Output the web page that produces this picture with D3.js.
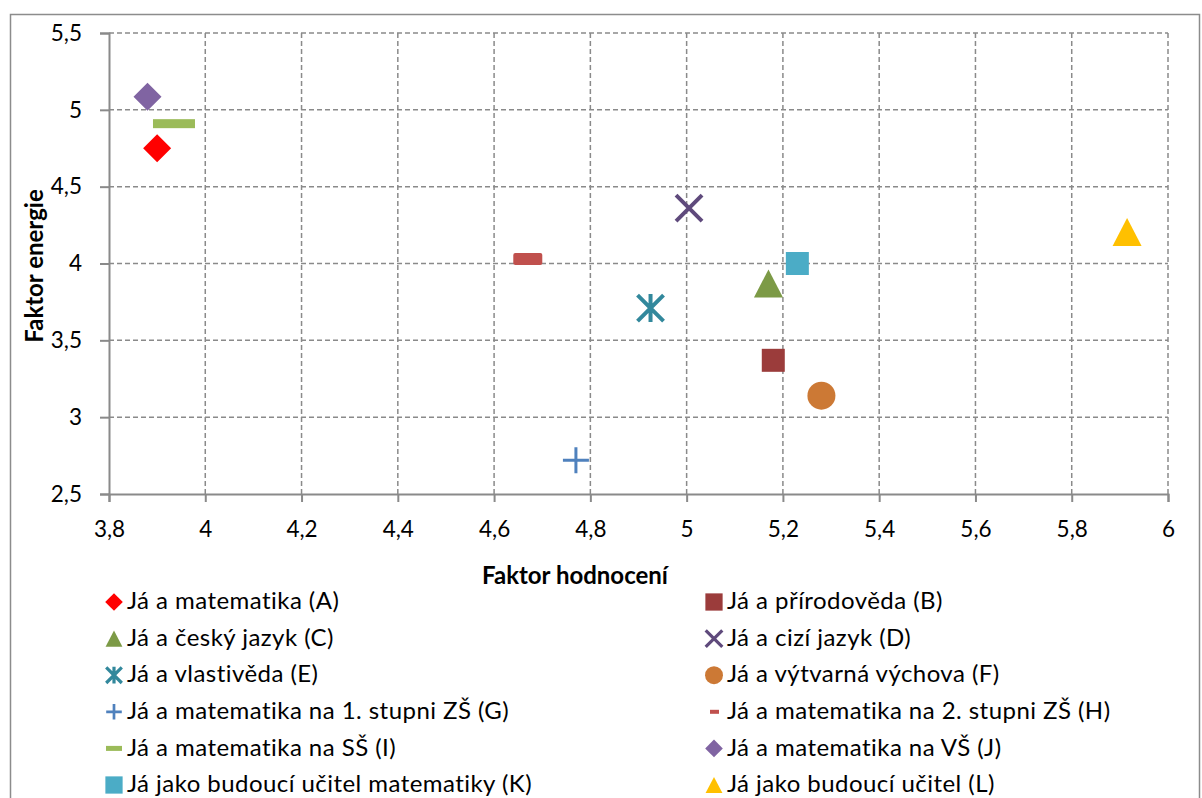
<!DOCTYPE html>
<html>
<head>
<meta charset="utf-8">
<script src="https://cdn.jsdelivr.net/npm/d3@7"></script>
<style>
  html, body { margin: 0; padding: 0; background: #fff; }
  svg { display: block; font-family: Lato, "Open Sans", sans-serif; }
</style>
</head>
<body>
<svg id="chart" width="1202" height="798"></svg>
<script>
// Series labels, symbols, colours and values
const labels = [
  "Já a matematika (A)", "Já a přírodověda (B)", "Já a český jazyk (C)", "Já a cizí jazyk (D)",
  "Já a vlastivěda (E)", "Já a výtvarná výchova (F)", "Já a matematika na 1. stupni ZŠ (G)",
  "Já a matematika na 2. stupni ZŠ (H)", "Já a matematika na SŠ (I)", "Já a matematika na VŠ (J)",
  "Já jako budoucí učitel matematiky (K)", "Já jako budoucí učitel (L)"
];
const hodnoceni = [3.90, 5.18, 5.17, 5.005, 4.925, 5.28, 4.77, 4.67, 3.935, 3.88, 5.23, 5.915];
const energie   = [4.75, 3.37, 3.87, 4.36, 3.71, 3.14, 2.72, 4.03, 4.91, 5.085, 4.00, 4.205];
const shapes = ["diamond", "square", "triangle", "x", "star", "circle", "plus", "dashSmall", "dashLong", "diamond", "square", "triangle"];
const colors = ["#FF0000", "#9B3C3B", "#7C9A46", "#5F4A7C", "#32889C", "#CC7935", "#4F81BD", "#C0504D", "#9BBB59", "#8064A2", "#4BACC6", "#FFC000"];
const xTicks = [3.8, 4, 4.2, 4.4, 4.6, 4.8, 5, 5.2, 5.4, 5.6, 5.8, 6];
const yTicks = [2.5, 3, 3.5, 4, 4.5, 5, 5.5];

const svg = d3.select("#chart");
const fmt = v => String(v).replace(".", ",");

// outer chart frame
svg.append("rect").attr("x", 10.5).attr("y", 14.5).attr("width", 1189).attr("height", 800)
  .attr("fill", "none").attr("stroke", "#8c8c8c").attr("stroke-width", 1.5);

const x = d3.scaleLinear().domain([3.8, 6]).range([109, 1168]);
const y = d3.scaleLinear().domain([2.5, 5.5]).range([494, 33]);

const gridColor = "#8a8a8a";
// dashed grid
const grid = svg.append("g");
grid.selectAll("line.gx").data(xTicks.slice(1)).join("line")
  .attr("x1", d => x(d)).attr("x2", d => x(d)).attr("y1", y(5.5)).attr("y2", y(2.5))
  .attr("stroke", gridColor).attr("stroke-width", 1.5).attr("stroke-dasharray", "5,3");
grid.selectAll("line.gy").data(yTicks.slice(1)).join("line")
  .attr("x1", x(3.8)).attr("x2", x(6)).attr("y1", d => y(d)).attr("y2", d => y(d))
  .attr("stroke", gridColor).attr("stroke-width", 1.5).attr("stroke-dasharray", "5,3");

// axes
const xAxis = svg.append("g").attr("transform", `translate(0,${y(2.5)})`)
  .call(d3.axisBottom(x).tickValues(xTicks).tickFormat(fmt).tickSize(8).tickPadding(19));
const yAxis = svg.append("g").attr("transform", `translate(${x(3.8)},0)`)
  .call(d3.axisLeft(y).tickValues(yTicks).tickFormat(fmt).tickSize(9).tickPadding(18));
[xAxis, yAxis].forEach(g => {
  g.select(".domain").attr("stroke", gridColor).attr("stroke-width", 2);
  g.selectAll(".tick line").attr("stroke", gridColor).attr("stroke-width", 2);
  g.selectAll(".tick text").attr("fill", "#000").style("font-size", "22.5px").style("font-family", "Lato, sans-serif");
});
xAxis.selectAll(".tick text").attr("dy", "0.71em");

// axis titles
svg.append("text").attr("x", 575).attr("y", 584).attr("text-anchor", "middle")
  .style("font-size", "24px").style("font-weight", "bold").text("Faktor hodnocení");
svg.append("text").attr("transform", "translate(43,266) rotate(-90)").attr("text-anchor", "middle")
  .style("font-size", "24px").style("font-weight", "bold").text("Faktor energie");

// marker drawing
function drawMarker(g, shape, color, s) {
  switch (shape) {
    case "diamond":
      g.append("path").attr("d", `M0,${-14*s}L${14*s},0L0,${14*s}L${-14*s},0Z`).attr("fill", color); break;
    case "square":
      g.append("rect").attr("x", -11.5*s).attr("y", -11.5*s).attr("width", 23*s).attr("height", 23*s).attr("fill", color); break;
    case "triangle":
      g.append("path").attr("d", `M0,${-14*s}L${14.5*s},${14*s}L${-14.5*s},${14*s}Z`).attr("fill", color); break;
    case "circle":
      g.append("circle").attr("r", 14*s).attr("fill", color); break;
    case "x":
      g.append("path").attr("d", `M${-13*s},${-13*s}L${13*s},${13*s}M${13*s},${-13*s}L${-13*s},${13*s}`)
        .attr("stroke", color).attr("stroke-width", 4 * Math.max(s, 0.8)); break;
    case "star":
      g.append("path").attr("d", `M${-13*s},${-13*s}L${13*s},${13*s}M${13*s},${-13*s}L${-13*s},${13*s}M0,${-14*s}L0,${14*s}`)
        .attr("stroke", color).attr("stroke-width", 4 * Math.max(s, 0.8)); break;
    case "plus":
      g.append("path").attr("d", `M${-13*s},0L${13*s},0M0,${-13*s}L0,${13*s}`)
        .attr("stroke", color).attr("stroke-width", 3 * Math.max(s, 0.9)); break;
    case "dashSmall":
      g.append("rect").attr("x", -14.5*s).attr("y", -6*s).attr("width", 29*s).attr("height", 12*s).attr("rx", 2*s).attr("fill", color); break;
    case "dashLong":
      g.append("rect").attr("x", -21*s).attr("y", -4.5*s).attr("width", 42*s).attr("height", 9*s).attr("fill", color); break;
  }
}

// points
const pts = svg.append("g");
labels.forEach((lab, i) => {
  const g = pts.append("g").attr("transform", `translate(${x(hodnoceni[i])},${y(energie[i])})`);
  drawMarker(g, shapes[i], colors[i], 1);
});

// legend, two columns
const legend = svg.append("g");
const legendScaleS = [0.63, 0.75, 0.58, 0.64, 0.6, 0.64, 0.6, 0.35, 0.55, 0.63, 0.75, 0.58];
labels.forEach((lab, i) => {
  const col = i % 2, row = Math.floor(i / 2);
  const mx = col === 0 ? 114 : 714;
  const ty = 602 + row * 36.6;
  const g = legend.append("g").attr("transform", `translate(${mx},${ty})`);
  if (shapes[i] === "dashLong") {
    g.append("rect").attr("x", -8).attr("y", -2.5).attr("width", 16).attr("height", 5).attr("fill", colors[i]);
  } else if (shapes[i] === "dashSmall") {
    g.append("rect").attr("x", -4).attr("y", -2).attr("width", 9).attr("height", 4).attr("fill", colors[i]);
  } else {
    drawMarker(g, shapes[i], colors[i], legendScaleS[i]);
  }
  legend.append("text").attr("x", mx + 13).attr("y", ty).attr("dy", "0.3em")
    .style("font-size", "24px").style("letter-spacing", "0.45px").attr("fill", "#000").text(lab);
});
</script>
</body>
</html>
